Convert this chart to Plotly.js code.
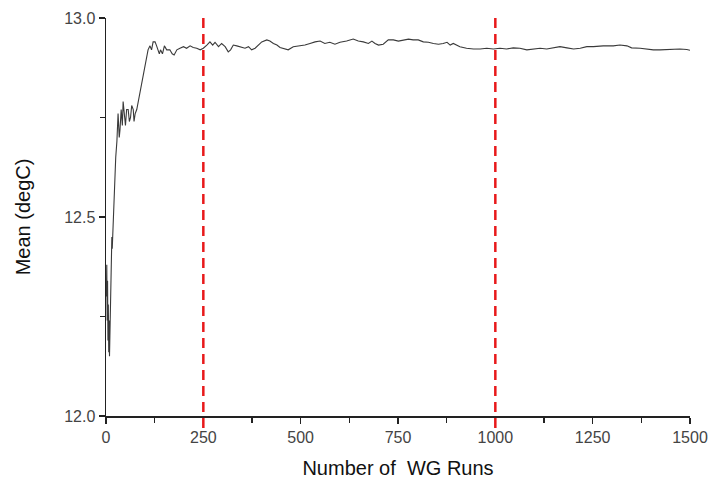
<!DOCTYPE html>
<html>
<head>
<meta charset="utf-8">
<script src="https://cdn.plot.ly/plotly-3.0.1.min.js"></script>
<style>
  html, body { margin: 0; padding: 0; background: #fff; }
  #chart { width: 714px; height: 481px; }
</style>
</head>
<body>
<div id="chart"></div>
<script>
// Running mean temperature against the number of weather-generator runs
const runs = [
  1, 2, 3, 4, 5, 6, 7, 8, 9, 10, 11, 13, 15, 16, 18, 20, 22, 25, 28, 31,
  34, 36, 39, 42, 44, 47, 50, 53, 57, 60, 63, 66, 70, 72, 75, 79, 83, 86, 90, 93,
  96, 100, 104, 108, 113, 117, 121, 126, 130, 134, 137, 140, 145, 150, 156, 164, 170, 175, 182, 190,
  199, 207, 216, 224, 233, 242, 250, 259, 267, 274, 280, 289, 297, 306, 314, 320, 327, 336, 344, 357,
  366, 374, 383, 391, 400, 413, 421, 430, 439, 447, 460, 468, 481, 498, 511, 524, 537, 550, 562, 575,
  588, 601, 618, 635, 648, 661, 674, 683, 691, 700, 712, 725, 738, 751, 764, 777, 789, 802, 815, 828,
  841, 854, 866, 876, 884, 892, 909, 926, 944, 961, 978, 995, 1012, 1029, 1046, 1063, 1081, 1098, 1115, 1132,
  1149, 1166, 1184, 1201, 1218, 1235, 1252, 1277, 1303, 1320, 1338, 1350, 1372, 1389, 1406, 1423, 1440, 1457, 1474, 1492,
  1500
];
const meanTemp = [
  12.30, 12.38, 12.24, 12.34, 12.19, 12.28, 12.16, 12.24, 12.15, 12.22, 12.30, 12.38, 12.45, 12.42, 12.48, 12.50, 12.55, 12.65, 12.69, 12.76,
  12.70, 12.72, 12.77, 12.73, 12.79, 12.76, 12.73, 12.77, 12.77, 12.74, 12.75, 12.78, 12.77, 12.74, 12.76, 12.77, 12.79, 12.81, 12.83, 12.84,
  12.86, 12.88, 12.90, 12.92, 12.93, 12.92, 12.94, 12.94, 12.93, 12.92, 12.91, 12.92, 12.91, 12.93, 12.92, 12.92, 12.91, 12.907, 12.92, 12.924,
  12.928, 12.924, 12.93, 12.926, 12.924, 12.92, 12.924, 12.932, 12.94, 12.932, 12.939, 12.928, 12.936, 12.928, 12.915, 12.92, 12.932, 12.93, 12.928, 12.924,
  12.928, 12.92, 12.924, 12.932, 12.94, 12.945, 12.942, 12.936, 12.932, 12.926, 12.922, 12.92, 12.928, 12.93, 12.932, 12.936, 12.94, 12.942, 12.936, 12.939,
  12.934, 12.939, 12.942, 12.947, 12.942, 12.94, 12.936, 12.942, 12.936, 12.932, 12.934, 12.945, 12.945, 12.942, 12.945, 12.947, 12.945, 12.945, 12.94, 12.939,
  12.936, 12.934, 12.936, 12.939, 12.932, 12.936, 12.928, 12.924, 12.922, 12.922, 12.924, 12.922, 12.924, 12.922, 12.925, 12.924, 12.92, 12.922, 12.924, 12.922,
  12.925, 12.928, 12.925, 12.922, 12.924, 12.928, 12.928, 12.93, 12.93, 12.932, 12.93, 12.925, 12.924, 12.922, 12.92, 12.92, 12.921, 12.922, 12.922, 12.921,
  12.919
];
// Marker positions for the two reference run counts
const markerRuns = [250, 1000];

const xTicks = [0, 250, 500, 750, 1000, 1250, 1500];
const yTicks = [12.0, 12.5, 13.0];

const trace = {
  x: runs,
  y: meanTemp,
  type: 'scatter',
  mode: 'lines',
  line: { color: '#3a3a3a', width: 1.1 },
  hoverinfo: 'x+y'
};

const shapes = markerRuns.map(r => ({
  type: 'line',
  xref: 'x', yref: 'paper',
  x0: r, x1: r, y0: -0.03, y1: 1,
  line: { color: '#e8191b', width: 2.5, dash: '10px,6px' }
}));

const tickFont = { family: 'Liberation Sans, Arial, sans-serif', size: 16, color: '#444' };
const titleFont = { family: 'Liberation Sans, Arial, sans-serif', size: 20, color: '#111' };

const layout = {
  width: 714,
  height: 481,
  margin: { l: 106, r: 24, t: 18, b: 65 },
  paper_bgcolor: '#fff',
  plot_bgcolor: '#fff',
  showlegend: false,
  shapes: shapes,
  xaxis: {
    range: [0, 1500],
    tickvals: xTicks,
    ticktext: xTicks.map(String),
    showgrid: false,
    zeroline: false,
    showline: true,
    linecolor: '#222',
    linewidth: 1.5,
    ticks: 'outside',
    ticklen: 6,
    tickwidth: 1.3,
    tickcolor: '#222',
    minor: { dtick: 125, tick0: 0, ticks: 'outside', ticklen: 5, tickwidth: 1.3, tickcolor: '#222', showgrid: false },
    tickfont: tickFont,
    title: { text: 'Number of  WG Runs', font: titleFont, standoff: 16 },
    automargin: false
  },
  yaxis: {
    range: [12, 13],
    tickvals: yTicks,
    ticktext: yTicks.map(v => v.toFixed(1)),
    showgrid: false,
    zeroline: false,
    showline: true,
    linecolor: '#222',
    linewidth: 1.5,
    ticks: 'outside',
    ticklen: 6,
    tickwidth: 1.3,
    tickcolor: '#222',
    minor: { dtick: 0.25, tick0: 12, ticks: 'outside', ticklen: 5, tickwidth: 1.3, tickcolor: '#222', showgrid: false },
    tickfont: tickFont,
    title: { text: 'Mean (degC)', font: titleFont, standoff: 28 },
    automargin: false
  }
};

Plotly.newPlot('chart', [trace], layout, { displayModeBar: false, staticPlot: true });
</script>
</body>
</html>
